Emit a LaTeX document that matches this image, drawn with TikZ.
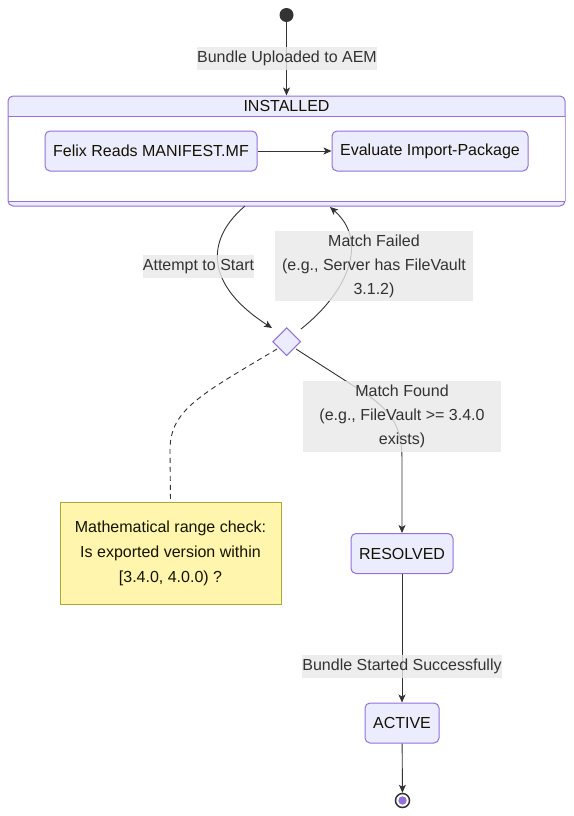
\documentclass[tikz,border=0pt]{standalone}
\usepackage{fontspec}
\setmainfont{Liberation Sans}
\usetikzlibrary{arrows.meta,shapes.geometric,calc}
\definecolor{edgec}{HTML}{333333}
\definecolor{statefill}{HTML}{ECECFF}
\definecolor{statedraw}{HTML}{9370DB}
\definecolor{lblfill}{HTML}{E8E8E8}
\definecolor{notefill}{HTML}{FFF5AD}
\definecolor{notedraw}{HTML}{AAAA33}
\definecolor{txt}{HTML}{131300}
\begin{document}
\begin{tikzpicture}[x=1pt,y=-1pt,
  font=\fontsize{16}{24}\selectfont,
  stbox/.style={draw=statedraw,fill=statefill,line width=1pt,rounded corners=5pt,minimum height=40pt,inner sep=0pt,text=txt},
  elabel/.style={fill=lblfill,fill opacity=0.8,text opacity=1,text=edgec,inner sep=0pt,minimum height=23pt,align=center},
  conn/.style={draw=edgec,line width=0.9pt,-{Stealth[length=8pt,width=7pt,inset=2pt]}},
  notebox/.style={draw=notedraw,fill=notefill,line width=1pt,inner sep=0pt,align=center,text=txt,font=\fontsize{16}{25}\selectfont}
]
\useasboundingbox (0,0) rectangle (573,816);

% start
\node[circle,fill=edgec,minimum size=14pt,inner sep=0pt] (start) at (286.5,15) {};

% composite INSTALLED
\node[draw=statedraw,fill=statefill,line width=1pt,rounded corners=5pt,minimum width=557pt,minimum height=110pt,inner sep=0pt] (installed) at (286.5,151) {};
\fill[white] (8.5,116.5) rectangle (564.5,201);
\draw[statedraw,line width=1pt] (8,116) -- (565,116);
\draw[statedraw,line width=1pt] (8,201) -- (565,201);
\node[text=txt,inner sep=0pt] (insttitle) at (286.5,106) {INSTALLED};

\node[stbox,minimum width=212pt] (felix) at (151,151) {Felix Reads MANIFEST.MF};
\node[stbox,minimum width=196pt] (eval) at (430,151) {Evaluate Import-Package};

% choice diamond
\node[diamond,draw=statedraw,fill=statefill,line width=1pt,minimum width=28pt,minimum height=28pt,inner sep=0pt] (dia) at (286.7,341.7) {};

% note
\node[notebox,minimum width=221pt,minimum height=102pt] (note) at (170.5,553) {Mathematical range check:\\Is exported version within\\{[3.4.0, 4.0.0) ?}};

\node[stbox,minimum width=102pt] (resolved) at (402,553.5) {RESOLVED};
\node[stbox,minimum width=74pt] (active) at (402,723) {ACTIVE};

% end
\node[circle,draw=edgec,fill=white,line width=1.5pt,minimum size=14pt,inner sep=0pt] (end) at (402.5,800.5) {};
\fill[statedraw] (end.center) circle (4.2pt);

% coordinates
\coordinate (i1) at (245,206);
\coordinate (i2) at (330,207);
\coordinate (d1) at (272,328);
\coordinate (d2) at (301,329);
\coordinate (d3) at (296,349);
\coordinate (d4) at (277,349);

% edges
\draw[conn] (start) -- (installed.north);
\node[elabel,minimum width=178pt] (l1) at (287,58.5) {Bundle Uploaded to AEM};

\draw[conn] (felix) -- (eval);

\draw[conn] (i1) .. controls (205,240) and (205,285) .. (d1);
\draw[conn] (d2) .. controls (350,290) and (368,240) .. (i2);
\draw[conn] (d3) -- (360,390) .. controls (395,412) and (402,430) .. (402,460) -- (resolved.north);
\draw[edgec,line width=0.9pt,dash pattern=on 5pt off 4pt] (d4) .. controls (200,395) and (170,410) .. (170,450) -- (note.north);

\node[elabel,minimum width=111pt] (l2) at (198.5,266.5) {Attempt to Start};
\node[elabel,minimum width=198pt,minimum height=70pt] (l3) at (374,266) {Match Failed\\(e.g., Server has FileVault\\3.1.2)};
\node[elabel,minimum width=198pt,minimum height=71pt] (l4) at (402,416.5) {Match Found\\(e.g., FileVault >= 3.4.0\\exists)};

\draw[conn] (resolved) -- (active);
\node[elabel,minimum width=198pt] (l5) at (402,666.5) {Bundle Started Successfully};

\draw[conn] (active) -- (end);
\end{tikzpicture}
\end{document}
